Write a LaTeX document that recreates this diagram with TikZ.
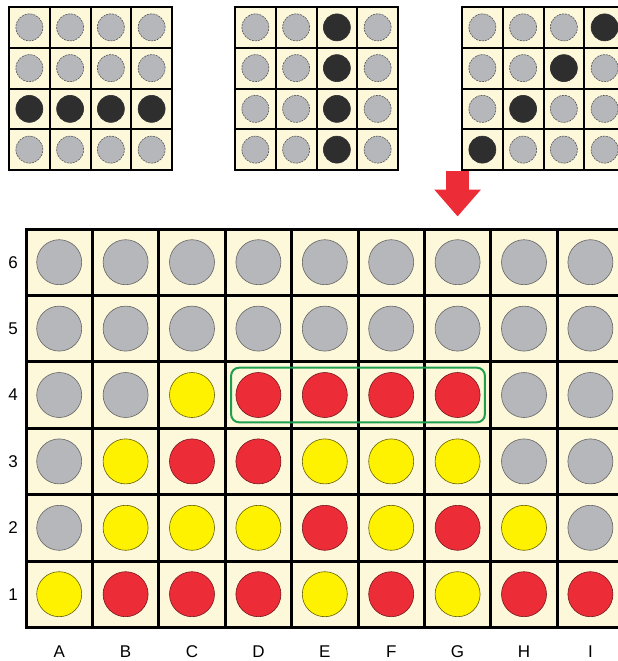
\documentclass[tikz,border=0pt]{standalone}
\usepackage{fontspec}
\setmainfont{Liberation Sans}
\usetikzlibrary{positioning,arrows.meta,fit}
\definecolor{cream}{HTML}{FDF8DA}
\definecolor{peg}{HTML}{B5B7BA}
\definecolor{ylw}{HTML}{FFF200}
\definecolor{rd}{HTML}{EC2D38}
\definecolor{blk}{HTML}{2E2E2E}
\definecolor{grn}{HTML}{1E9E4E}

\begin{document}
\begin{tikzpicture}[x=1pt, y=-1pt,
  cell/.style={draw, line width=3pt, fill=cream, minimum size=66.4pt, inner sep=0pt},
  mini/.style={draw, line width=2pt, fill=cream, minimum size=40.75pt, inner sep=0pt},
  disc/.style={circle, minimum size=45pt, inner sep=0pt, line width=0.6pt},
  dot/.style={circle, minimum size=27pt, inner sep=0pt, line width=0.6pt},
  disc g/.style={fill=peg, draw=peg!55!black},
  disc y/.style={fill=ylw, draw=ylw!40!black},
  disc r/.style={fill=rd, draw=rd!50!black},
  disc k/.style={fill=blk, draw=blk},
  disc e/.style={fill=peg, draw=peg!45!black, dash pattern=on 2pt off 1pt},
  lab/.style={font=\fontsize{17}{19}\selectfont},
  win/.style={draw=grn, line width=2pt, rounded corners=8pt, inner sep=4.5pt},
  drop/.style={draw=rd, line width=23pt, -{Triangle[length=27pt, width=45pt]}}
]
\useasboundingbox (0,0) rectangle (618,661);
% the three ways to win, small boards
\foreach \k/\ox in {1/9, 2/235, 3/462}
  \foreach \i in {1,...,4}
    \foreach \j in {1,...,4} {
      \pgfmathtruncatemacro\hit{((\k==1)&&(\j==3))||((\k==2)&&(\i==3))||((\k==3)&&(\i+\j==5))}
      \ifnum\hit=1 \def\tone{k}\else\def\tone{e}\fi
      \node[mini] (m\k\i\j) at ({\ox+(\i-0.5)*40.75}, {7+(\j-0.5)*40.75}) {};
      \node[dot, disc \tone] (d\k\i\j) at (m\k\i\j) {};
    }
% main board
\foreach \r/\line in {6/{g,g,g,g,g,g,g,g,g}, 5/{g,g,g,g,g,g,g,g,g},
    4/{g,g,y,r,r,r,r,g,g}, 3/{g,y,r,r,y,y,y,g,g},
    2/{g,y,y,y,r,y,r,y,g}, 1/{y,r,r,r,y,r,y,r,r}}
  \foreach \t [count=\c] in \line {
    \node[cell] (sq\c\r) at ({26+(\c-0.5)*66.4}, {229+(6.5-\r)*66.4}) {};
    \node[disc, disc \t] (p\c\r) at (sq\c\r) {};
  }
\foreach \r in {1,...,6}
  \node[lab] (row\r) at (13, {229+(6.5-\r)*66.4}) {\r};
\foreach \l [count=\c] in {A,B,C,D,E,F,G,H,I}
  \node[lab] (col\l) at ({26+(\c-0.5)*66.4}, 652) {\l};

\node[win, fit=(p44)(p74)] (four) {};
\draw[drop, shorten >=11pt] (sq76.north |- m314.south) -- (sq76.north);
\end{tikzpicture}
\end{document}
